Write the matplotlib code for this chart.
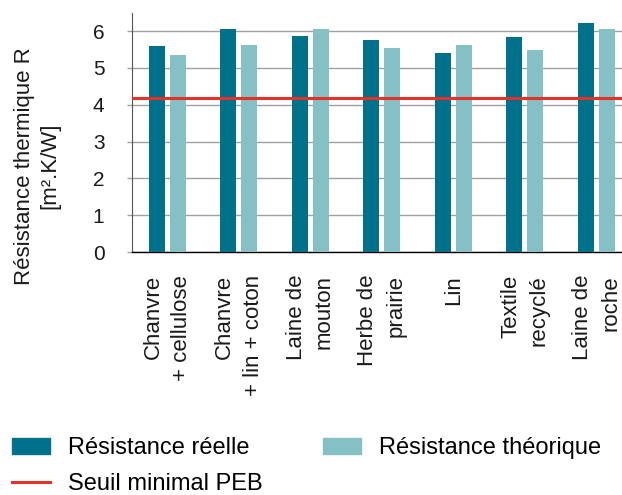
import numpy as np
import matplotlib
matplotlib.use("Agg")
import matplotlib.pyplot as plt
from matplotlib.patches import Patch
from matplotlib.lines import Line2D

plt.rcParams['font.family'] = ['Liberation Sans', 'DejaVu Sans']

# R values per insulation material
materials = ["Chanvre\n+ cellulose", "Chanvre\n+ lin + coton", "Laine de\nmouton",
             "Herbe de\nprairie", "Lin", "Textile\nrecyclé", "Laine de\nroche"]
r_reelle = [5.59, 6.05, 5.87, 5.75, 5.40, 5.84, 6.21]
r_theorique = [5.36, 5.62, 6.06, 5.55, 5.62, 5.48, 6.06]
seuil_peb = 4.17

dark = "#00718a"
light = "#85c0c5"
red = "#e2322a"

fig = plt.figure(figsize=(6.22, 4.95), dpi=100)
ax = fig.add_axes([131.7 / 622, 1 - 252 / 495, 1 - 131.7 / 622, 239.4 / 495])

x = np.arange(len(materials))
w = 0.224
ax.bar(x - 0.147, r_reelle, w, color=dark, zorder=3)
ax.bar(x + 0.147, r_theorique, w, color=light, zorder=3)
ax.axhline(seuil_peb, color=red, lw=2.2, zorder=4)

ax.set_xlim(-0.5, 6.357)
ax.set_ylim(0, 6.5)
ax.set_yticks(range(7))
ax.yaxis.grid(True, color="#a0a0a0", lw=1.0, zorder=0)
ax.set_axisbelow(True)

for s in ("top", "right"):
    ax.spines[s].set_visible(False)
ax.spines["left"].set_color("#555555")
ax.spines["left"].set_linewidth(0.8)
ax.spines["bottom"].set_color("black")
ax.spines["bottom"].set_linewidth(1.0)

ax.tick_params(axis="y", length=3.6, color="#a0a0a0", width=1.0, pad=16,
               labelsize=15, labelcolor="#1a1a1a")
ax.tick_params(axis="x", length=0, pad=16.5)
ax.set_xticks(x)
ax.set_xticklabels(materials, rotation=90, fontsize=16, color="#1a1a1a",
                   va="top", ha="center", multialignment="right", linespacing=1.45)

fig.text(37 / 622, 1 - 166 / 495, "Résistance thermique R\n[m².K/W]", rotation=90,
         ha="center", va="center", multialignment="center", fontsize=16,
         color="#1a1a1a", linespacing=1.3)

handles = [Patch(color=dark), Line2D([], [], color=red, lw=2.2), Patch(color=light)]
labels = ["Résistance réelle", "Seuil minimal PEB", "Résistance théorique"]
fig.legend(handles, labels, loc="upper left", bbox_to_anchor=(12 / 622, 1 - 437 / 495),
           ncol=2, frameon=False, fontsize=17, borderpad=0, borderaxespad=0,
           handlelength=1.61, handleheight=0.68, handletextpad=0.76,
           columnspacing=2.55, labelspacing=0.6)

fig.savefig("out.png", dpi=100)
